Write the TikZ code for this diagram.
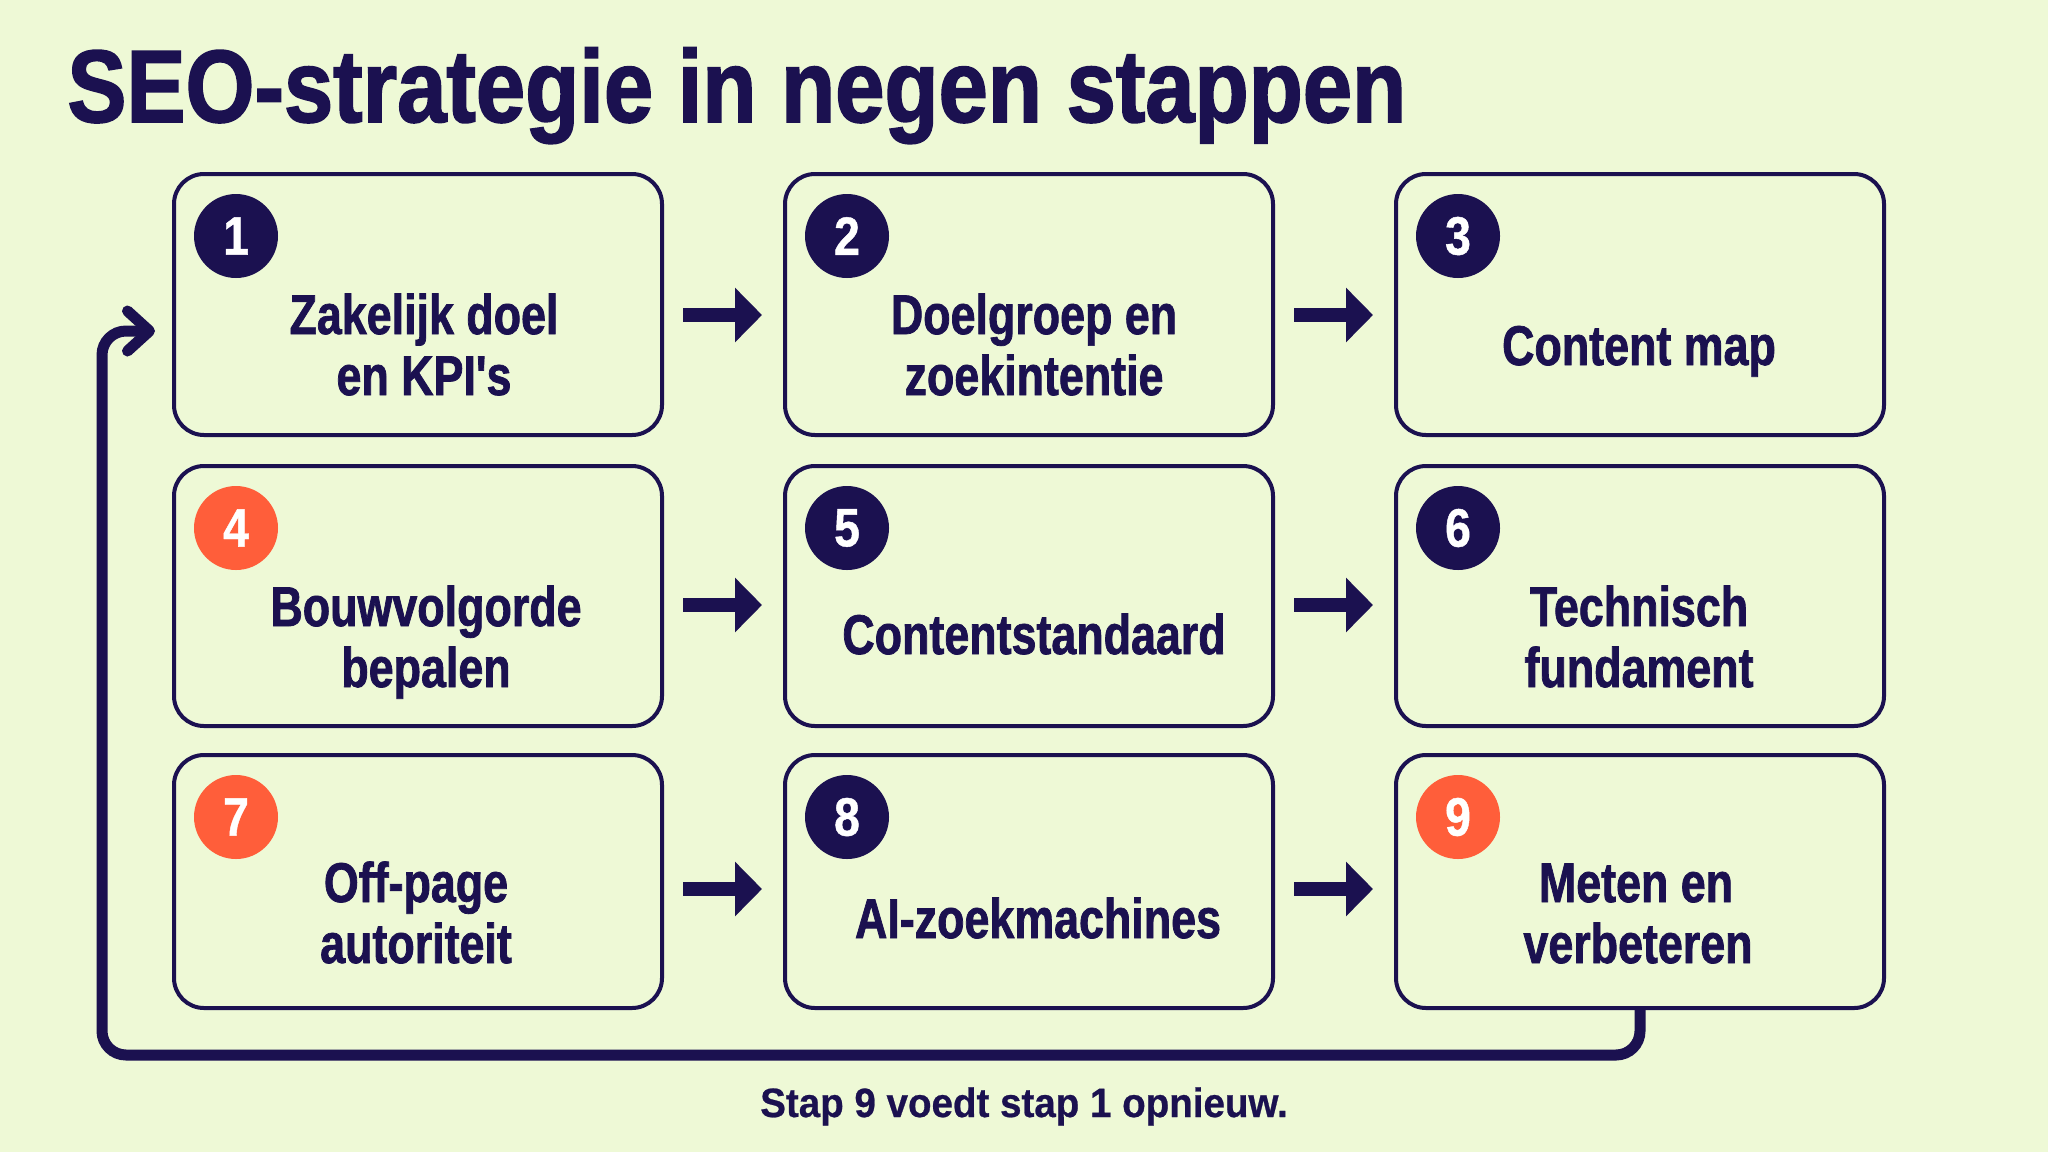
\documentclass[tikz,border=0pt]{standalone}
\usepackage{fontspec}
\setmainfont{Liberation Sans}
\newfontfamily\titlefont{Liberation Sans}[FakeStretch=0.86,FakeBold=1.6]
\newfontfamily\boxfont{Liberation Sans}[FakeStretch=0.80,FakeBold=1.3,Ligatures=TeXOff]
\newfontfamily\digitfont{Liberation Sans}[FakeStretch=0.86,FakeBold=0.8]
\newfontfamily\notefont{Liberation Sans}[FakeStretch=0.94,FakeBold=0.6]
\usetikzlibrary{arrows.meta,calc}
\definecolor{bg}{HTML}{EEF9D6}
\definecolor{navy}{HTML}{1B1150}
\definecolor{coral}{HTML}{FF5E3A}
\begin{document}
\begin{tikzpicture}[x=0.5pt,y=-0.5pt,
  stepbox/.style={draw=navy,line width=2pt,rounded corners=15pt,fill=bg,
    minimum width=244pt,minimum height=#1,inner sep=0pt},
  numdot/.style={circle,fill=#1,minimum size=42pt,inner sep=0pt,text=white,
    font=\digitfont\bfseries\fontsize{27}{27}\selectfont},
  steptext/.style={anchor=base,text=navy,inner sep=0pt,
    font=\boxfont\bfseries\fontsize{28}{30}\selectfont},
  flow/.style={draw=navy,line width=7pt,-{Triangle[length=13.5pt,width=26.5pt]}},
  feedback/.style={draw=navy,line width=5.5pt,rounded corners=12pt,
    -{Straight Barb[length=11pt,width=20pt,round]}}]
\useasboundingbox (0,0) rectangle (2048,1152);
\fill[bg] (0,0) rectangle (2048,1152);

% title
\node[anchor=base west,text=navy,inner sep=0pt,
  font=\titlefont\bfseries\fontsize{51.5}{51.5}\selectfont] (title) at (67,122)
  {SEO-strategie in negen stappen};

% boxes
\node[stepbox=130.5pt] (b1) at (418,304.5) {};
\node[stepbox=130.5pt] (b2) at (1029,304.5) {};
\node[stepbox=130.5pt] (b3) at (1640,304.5) {};
\node[stepbox=130pt] (b4) at (418,596) {};
\node[stepbox=130pt] (b5) at (1029,596) {};
\node[stepbox=130pt] (b6) at (1640,596) {};
\node[stepbox=126.5pt] (b7) at (418,881.5) {};
\node[stepbox=126.5pt] (b8) at (1029,881.5) {};
\node[stepbox=126.5pt] (b9) at (1640,881.5) {};

% number dots
\node[numdot=navy] (n1) at ($(b1.north west)+(64,64)$) {1};
\node[numdot=navy] (n2) at ($(b2.north west)+(64,64)$) {2};
\node[numdot=navy] (n3) at ($(b3.north west)+(64,64)$) {3};
\node[numdot=coral] (n4) at ($(b4.north west)+(64,64)$) {4};
\node[numdot=navy] (n5) at ($(b5.north west)+(64,64)$) {5};
\node[numdot=navy] (n6) at ($(b6.north west)+(64,64)$) {6};
\node[numdot=coral] (n7) at ($(b7.north west)+(64,64)$) {7};
\node[numdot=navy] (n8) at ($(b8.north west)+(64,64)$) {8};
\node[numdot=coral] (n9) at ($(b9.north west)+(64,64)$) {9};

% labels
\node[steptext] (t1a) at (424,334) {Zakelijk doel};
\node[steptext] (t1b) at (424,395) {en KPI's};
\node[steptext] (t2a) at (1034,334) {Doelgroep en};
\node[steptext] (t2b) at (1034,395) {zoekintentie};
\node[steptext] (t3) at (1639,365) {Content map};
\node[steptext] (t4a) at (426,626) {Bouwvolgorde};
\node[steptext] (t4b) at (426,687) {bepalen};
\node[steptext] (t5) at (1034,654) {Contentstandaard};
\node[steptext] (t6a) at (1639,626) {Technisch};
\node[steptext] (t6b) at (1639,687) {fundament};
\node[steptext] (t7a) at (416,902) {Off-page};
\node[steptext] (t7b) at (416,963) {autoriteit};
\node[steptext] (t8) at (1038,938) {AI-zoekmachines};
\node[steptext] (t9a) at (1636,902) {Meten en};
\node[steptext] (t9b) at (1638,963) {verbeteren};

% flow arrows
\draw[flow] ($(b1.east)+(19,10.5)$) -- ($(b2.west)+(-21,10.5)$);
\draw[flow] ($(b2.east)+(19,10.5)$) -- ($(b3.west)+(-21,10.5)$);
\draw[flow] ($(b4.east)+(19,9)$) -- ($(b5.west)+(-21,9)$);
\draw[flow] ($(b5.east)+(19,9)$) -- ($(b6.west)+(-21,9)$);
\draw[flow] ($(b7.east)+(19,7.5)$) -- ($(b8.west)+(-21,7.5)$);
\draw[flow] ($(b8.east)+(19,7.5)$) -- ($(b9.west)+(-21,7.5)$);

% feedback loop
\coordinate (lb) at (102,1055);
\coordinate (lt) at (102,331);
\draw[feedback] (b9.south) -- (b9.south |- lb) -- (lb) -- (lt) -- ($(b1.west)+(-17,26.5)$);

% note
\node[anchor=base,text=navy,inner sep=0pt,
  font=\notefont\bfseries\fontsize{20.5}{20.5}\selectfont] (note) at (1024,1117)
  {Stap 9 voedt stap 1 opnieuw.};
\end{tikzpicture}
\end{document}
